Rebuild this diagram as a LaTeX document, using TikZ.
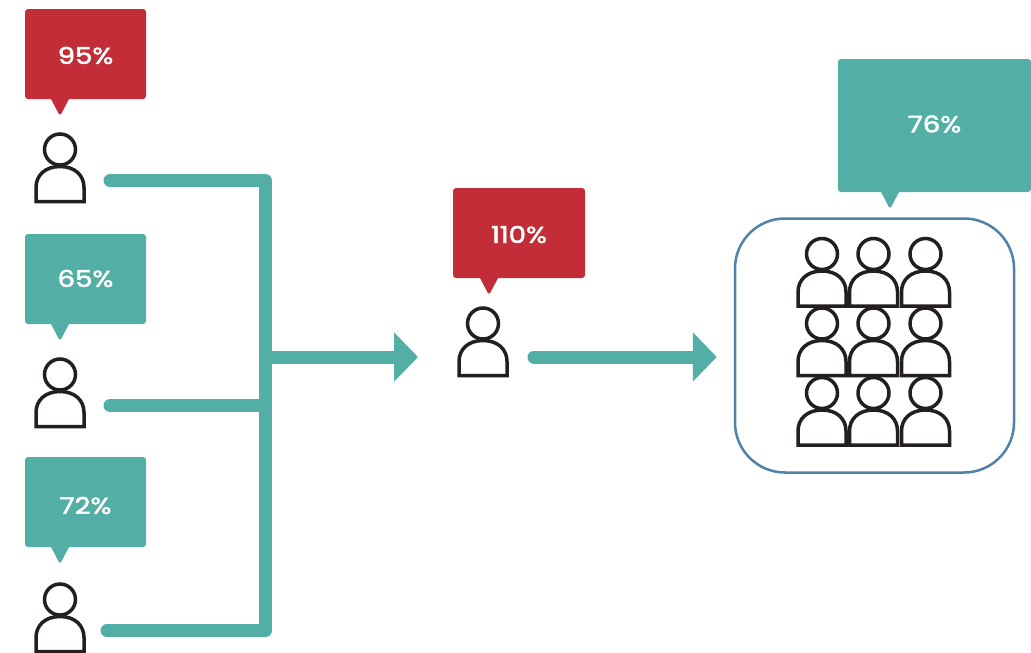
\documentclass[tikz,border=0pt]{standalone}
\usepackage{fontspec}
\newfontfamily\bubfont[FakeStretch=1.2,FakeBold=2.2]{Poppins}
\usetikzlibrary{arrows.meta}
\definecolor{bubred}{HTML}{C22D38}
\definecolor{bubteal}{HTML}{53AFA6}
\definecolor{boxblue}{HTML}{4E82A6}
\definecolor{inkblack}{HTML}{231F20}
\tikzset{
	bubble/.style = {rounded corners = 3pt, inner sep = 0pt, text = white, text height = 20pt, font = \fontsize{23}{23}\bubfont},
	person/.style = {minimum width = 100pt, minimum height = 44pt, inner sep = 0pt, outer sep = 0pt},
	bar/.style = {bubteal, line width = 13pt, line cap = round, line join = round},
	arrowbar/.style = {bar, -{Triangle[length = 24pt, width = 48pt]}},
	figure/.pic = {
		\draw[inkblack, line width = 3.5pt] (0,-52) circle (15.5);
		\draw[inkblack, line width = 3.5pt] (-24,0) -- (-24,-14) .. controls (-24,-26) and (-15,-35) .. (0,-35) .. controls (15,-35) and (24,-26) .. (24,-14) -- (24,0) -- cycle;
	}
}
\begin{document}
\begin{tikzpicture}[x = 1pt, y = -1pt]
	\useasboundingbox (0,0) rectangle (1031,653);

	\node[bubble, fill = bubred, minimum width = 121pt, minimum height = 90pt] (red top) at (85.5,54) {95\%};
	\node[bubble, fill = bubteal, minimum width = 121pt, minimum height = 90pt, text height = 16pt] (teal mid) at (85.5,279) {65\%};
	\node[bubble, fill = bubteal, minimum width = 121pt, minimum height = 90pt, text height = 24pt] (teal low) at (85.5,502) {72\%};
	\node[bubble, fill = bubred, minimum width = 132pt, minimum height = 90pt] (red lead) at (519,233) {110\%};
	\node[bubble, fill = bubteal, minimum width = 193pt, minimum height = 133pt, text height = 14pt] (teal team) at (934.5,125.5) {76\%};

	\foreach \b/\c/\o in {red top/bubred/-25.5, teal mid/bubteal/-25.5, teal low/bubteal/-25.5, red lead/bubred/-30, teal team/bubteal/-44.5}
		\fill[\c, rounded corners = 3pt] ([xshift = \o - 11, yshift = 4]\b.south) -- ([xshift = \o, yshift = -17]\b.south) -- ([xshift = \o + 11, yshift = 4]\b.south) -- cycle;

	\node[person] (one) at (60,180.5) {};
	\node[person] (two) at (60,405.5) {};
	\node[person] (three) at (57,630.5) {};
	\node[person, minimum width = 102pt] (lead) at (483,357) {};
	\node[draw = boxblue, line width = 2.5pt, rounded corners = 50pt, minimum width = 279pt, minimum height = 254pt] (team) at (874.5,345.5) {};
	\coordinate (join) at (266,357);
	\coordinate (turn top) at (265.5,180.5);
	\coordinate (turn low) at (265.5,630.5);

	\path (60,201.5) pic {figure};
	\path (60,426.5) pic {figure};
	\path (60,651.5) pic {figure};
	\path (483,375.5) pic {figure};
	\foreach \y in {306,375.5,445}
		\foreach \x in {822,873.5,925.5}
			\path (\x,\y) pic {figure};

	\draw[bar] (one.east) -- (turn top) -- (turn low) -- (three.east);
	\draw[bar] (two.east) -- (two.east -| turn top);
	\draw[arrowbar, line cap = butt] (join) -- ([xshift = -14]lead.west);
	\draw[arrowbar] (lead.east) -- ([xshift = -17]lead.east -| team.west);
\end{tikzpicture}
\end{document}
